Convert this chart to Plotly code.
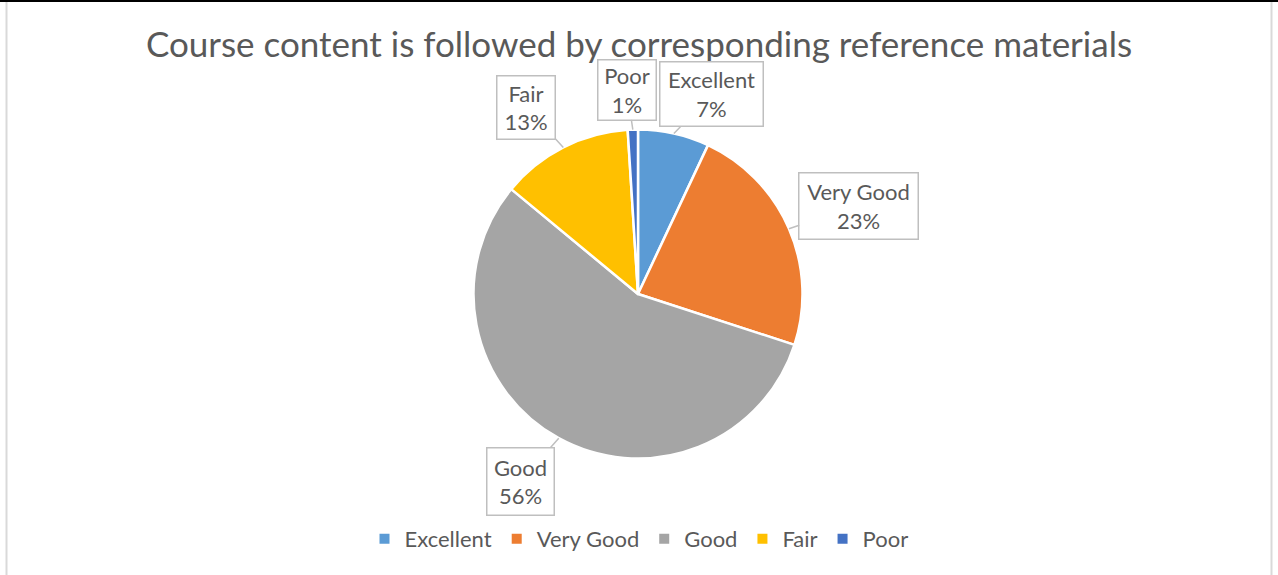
import math
import plotly.graph_objects as go

title = "Course content is followed by corresponding reference materials"
categories = ["Excellent", "Very Good", "Good", "Fair", "Poor"]
values = [7, 23, 56, 13, 1]
colors = ["#5B9BD5", "#ED7D31", "#A5A5A5", "#FFC000", "#4472C4"]

W, H = 1278, 575
FONT = "Lato, 'Open Sans', sans-serif"
TXT = "#595959"

# pie placement (pixels)
cx, cy, R = 638, 294, 164.5
dom_x = [(cx - R) / W, (cx + R) / W]
dom_y = [1 - (cy + R) / H, 1 - (cy - R) / H]

fig = go.Figure(go.Pie(
    labels=categories, values=values, sort=False, direction="clockwise",
    rotation=0, marker=dict(colors=colors, line=dict(color="white", width=2.5)),
    textinfo="none", hoverinfo="label+percent",
    domain=dict(x=dom_x, y=dom_y),
))

# callout offsets (box centre relative to anchor, pixels) and box sizes
offsets = {"Excellent": (38, -39), "Very Good": (70, -23), "Good": (-38, 43),
           "Fair": (-37, -40), "Poor": (-6, -40)}
sizes = {"Excellent": (102, 63), "Very Good": (118, 65), "Good": (66, 66),
         "Fair": (57, 62), "Poor": (57, 59)}

total = sum(values)
cum = 0
annotations = []
for cat, v in zip(categories, values):
    mid = (cum + v / 2) / total * 2 * math.pi
    cum += v
    px = cx + R * math.sin(mid)
    py = cy - R * math.cos(mid)
    pct = round(100 * v / total)
    ax, ay = offsets[cat]
    w, h = sizes[cat]
    annotations.append(dict(
        x=px / W, y=1 - py / H, xref="paper", yref="paper",
        ax=ax, ay=ay, axref="pixel", ayref="pixel",
        text=f"{cat}<br>{pct}%", showarrow=True, arrowhead=0, arrowwidth=1.5,
        arrowcolor="#BFBFBF", standoff=0,
        font=dict(family=FONT, size=22, color=TXT),
        bgcolor="white", bordercolor="#BFBFBF", borderwidth=1.5, borderpad=0,
        width=w, height=h, align="center", valign="middle",
    ))

shapes = [
    dict(type="rect", xref="paper", yref="paper", x0=0, x1=1, y0=1 - 2 / H, y1=1,
         fillcolor="black", line=dict(width=0), layer="above"),
    dict(type="line", xref="paper", yref="paper", x0=6.5 / W, x1=6.5 / W, y0=0, y1=1 - 2 / H,
         line=dict(color="#D9D9D9", width=2)),
    dict(type="line", xref="paper", yref="paper", x0=1271.5 / W, x1=1271.5 / W, y0=0, y1=1 - 2 / H,
         line=dict(color="#D9D9D9", width=2)),
]

fig.update_layout(
    width=W, height=H, margin=dict(l=0, r=0, t=0, b=0),
    paper_bgcolor="white", plot_bgcolor="white",
    title=dict(text=title, x=0.5, xanchor="center", y=1 - 45 / H, yanchor="middle",
               font=dict(family=FONT, size=35, color=TXT)),
    legend=dict(orientation="h", x=0.5, xanchor="center", y=1 - 539 / H, yanchor="middle",
                font=dict(family=FONT, size=22, color=TXT), traceorder="normal",
                itemsizing="constant"),
    annotations=annotations, shapes=shapes,
)

fig.write_html("out.html", config={"displayModeBar": False},
               post_script="document.body.style.margin='0';")
